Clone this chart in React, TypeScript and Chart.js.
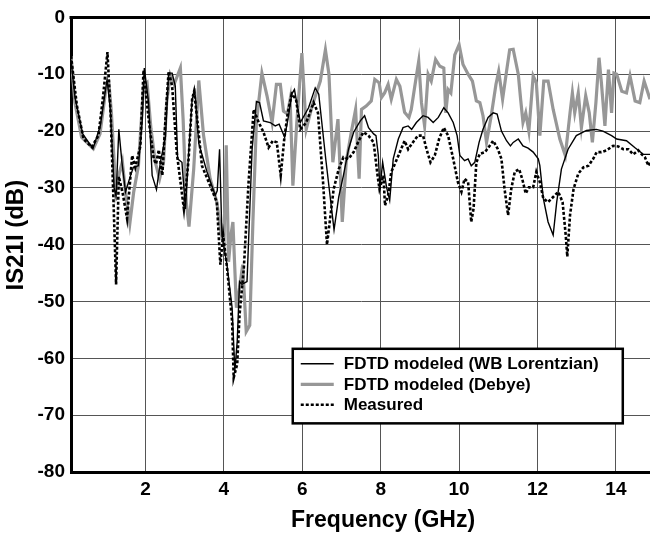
import React, { useEffect, useRef } from "react";
import { Chart, registerables } from "chart.js";

Chart.register(...registerables);

// ---------- data ----------
const seriesLabels = [
  "FDTD modeled (WB Lorentzian)",
  "FDTD modeled (Debye)",
  "Measured",
];

const lorentzFreq = [
  0.1, 0.2, 0.4, 0.66, 0.85, 1.02, 1.1, 1.2, 1.25, 1.32, 1.4, 1.49, 1.62, 1.69, 1.82, 1.92, 1.97,
  2.08, 2.17, 2.28, 2.38, 2.51, 2.59, 2.68, 2.76, 2.82, 2.93, 3.02, 3.1, 3.19, 3.26, 3.36, 3.57,
  3.78, 3.83, 3.89,
  3.95, 4.08, 4.21, 4.28, 4.34, 4.4, 4.46, 4.59, 4.72, 4.83, 4.91, 5.01, 5.18, 5.31, 5.41,
  5.55, 5.65, 5.73, 5.8, 5.95, 6.16, 6.33, 6.42, 6.6, 6.81, 6.93, 7.05, 7.18, 7.31, 7.48,
  7.59, 7.69, 7.82, 7.88, 7.94, 7.98, 8.05, 8.15, 8.23, 8.32, 8.45, 8.57, 8.7, 8.79, 8.91,
  9.08, 9.21, 9.34, 9.47, 9.61, 9.72, 9.85, 9.95, 10.02, 10.14, 10.23, 10.31, 10.4, 10.51,
  10.61, 10.74, 10.87, 10.97, 11.08, 11.21, 11.31, 11.38, 11.51, 11.63, 11.76, 11.89, 12.02,
  12.06, 12.15, 12.27, 12.4, 12.49, 12.61, 12.78, 12.99, 13.25, 13.5, 13.67, 13.89, 14.02,
  14.27, 14.48, 14.7, 14.87,
];
const lorentzDb = [
  -7.4, -14, -20.5, -23.1, -19, -10.9, -16, -30, -31.5, -19.7, -25.5, -30.7, -27.8, -26.4, -26.1, -17.9, -8.9,
  -15, -27.8, -30.3, -25.5, -21, -9.8, -9.8, -12.1, -24.9, -25.5, -33.7, -23.9, -14.4, -13, -22.2, -27.2,
  -31.3, -30.5, -23.2,
  -38.3, -43.6, -51.1, -62.2, -57, -46.5, -47, -46.5, -23.2, -14.8, -15, -18.2, -18.5, -19.1, -18.8,
  -21.1, -17.3, -13.5, -12.7, -18.5, -15.9, -12.4, -13.5, -25, -37.4, -31.6, -27.8, -23.2, -20.2, -18.2,
  -17.3, -19.4, -20.5, -20.8, -24.3, -30.2, -25.5, -29.9, -32.2, -24.9, -21.4, -19.4, -19.1, -19.7, -18.5,
  -17.3, -17.6, -18.5, -17.6, -15.9, -16.8, -18.5, -20.8, -24.3, -25.2, -24.9, -26.1, -25.5, -22,
  -19.7, -17.6, -16.8, -17, -20, -21.7, -22.6, -22, -21.4, -22.6, -23, -23.7, -24.9,
  -26.1, -31.9, -36, -38.3, -32.5, -26.7, -23.2, -20.8, -19.9, -19.7, -20, -20.8, -21.4,
  -21.7, -22.9, -24.1, -24.1,
];

const debyeFreq = [
  0.1, 0.2, 0.37, 0.67, 0.84, 0.99, 1.07, 1.13, 1.19, 1.24, 1.33, 1.41, 1.49, 1.6, 1.7, 1.82,
  1.95, 2.04, 2.14, 2.25, 2.36, 2.46, 2.54, 2.63, 2.73, 2.89, 2.96, 3.04, 3.11, 3.23, 3.36, 3.48,
  3.65, 3.82, 3.93, 4.0, 4.06, 4.12, 4.18, 4.23, 4.32, 4.4, 4.48, 4.57, 4.66, 4.74, 4.83, 4.97, 5.1,
  5.23, 5.34, 5.44, 5.52, 5.62, 5.69, 5.76, 5.86, 5.99, 6.1, 6.25, 6.46, 6.59, 6.68, 6.78, 6.91,
  7.02, 7.12, 7.25, 7.36, 7.45, 7.51, 7.63, 7.76, 7.85, 7.96, 8.02, 8.1, 8.19, 8.27, 8.4, 8.49,
  8.61, 8.72, 8.78, 8.87, 8.97, 9.04, 9.12, 9.21, 9.29, 9.4, 9.51, 9.61, 9.66, 9.72, 9.79, 9.89,
  10.0, 10.1, 10.23, 10.34, 10.44, 10.53, 10.61, 10.7, 10.82, 10.94, 11.01, 11.11, 11.21, 11.29,
  11.38, 11.51, 11.57, 11.63, 11.7, 11.78, 11.89, 11.97, 12.06, 12.16, 12.27, 12.4, 12.57, 12.71,
  12.83, 12.89, 12.95, 13.04, 13.12, 13.23, 13.32, 13.4, 13.49, 13.57, 13.63, 13.72, 13.81, 13.89,
  13.95, 14.02, 14.15, 14.27, 14.36, 14.49, 14.61, 14.72, 14.87,
];
const debyeDb = [
  -6.8, -15, -21.1, -23.1, -20.5, -12.6, -11.8, -16.7, -24, -30.7, -27.5, -25.4, -30.7, -36.3, -30.7, -26.1,
  -12.1, -11.5, -19.6, -25.5, -28.4, -25.5, -15, -10.1, -11.8, -8.9, -17.9, -32.5, -36.8, -26.7, -11.1, -20.7,
  -28.4, -32.5, -38, -40, -22.5, -43, -38.3, -36, -51.1, -47.6, -43.5, -55.3, -54.2, -36, -18.5, -9.8, -13.8,
  -18.5, -11.8, -11.8, -16.5, -17, -14.4, -29.6, -18.5, -6.3, -19.7, -15.6, -11.2, -5.7, -10, -25.5, -17.9,
  -36, -25.5, -20.2, -16.2, -28.4, -16.2, -15.6, -14.7, -10.9, -11.5, -14.1, -13.3, -11.8, -14.4, -10.9, -12.1,
  -16.7, -17.6, -16.2, -12.1, -7.7, -15, -19.1, -10, -11.2, -7.4, -8.6, -8.9, -16.8, -12.7, -13.3, -6.6,
  -4.8, -8.3, -10, -11.2, -14.7, -15, -17.3, -22, -17.3, -11.8, -9.5, -14.4, -9.5, -5.7,
  -5.6, -10, -14.4, -18.5, -16.8, -20, -10.3, -11.5, -20.8, -11.2, -11.2, -16.2, -21.4, -24.3,
  -16.8, -13.3, -16.8, -13.3, -19.4, -13.8, -16.8, -22, -15, -7.1, -11.5, -19.1, -9.2, -16.8,
  -9.8, -10, -13, -13.3, -10.3, -14.7, -15, -11.2, -14.4,
];

const measuredFreq = [
  0.1, 0.25, 0.42, 0.63, 0.8, 0.92, 1.03, 1.11, 1.19, 1.25, 1.32, 1.42, 1.53, 1.66, 1.74, 1.87,
  1.95, 2.08, 2.21, 2.27, 2.34, 2.43, 2.51, 2.59, 2.68, 2.8, 2.98, 3.1, 3.19, 3.24, 3.32, 3.44,
  3.65, 3.82, 3.91, 3.98, 4.08, 4.21, 4.25, 4.34, 4.4, 4.51, 4.63, 4.76, 4.89, 5.01, 5.14, 5.25, 5.35,
  5.45, 5.54, 5.63, 5.73, 5.84, 5.95, 6.1, 6.29, 6.4, 6.53, 6.63, 6.8, 6.93, 7.05, 7.18, 7.31,
  7.44, 7.56, 7.69, 7.82, 7.92, 7.97, 8.07, 8.11, 8.19, 8.27, 8.38, 8.52, 8.61, 8.7, 8.82, 8.95,
  9.08, 9.17, 9.27, 9.38, 9.49, 9.61, 9.72, 9.85, 9.97, 10.06, 10.14, 10.23, 10.31, 10.37, 10.44,
  10.53, 10.66, 10.78, 10.87, 10.99, 11.08, 11.16, 11.25, 11.33, 11.42, 11.53, 11.61, 11.7, 11.78,
  11.89, 11.97, 12.06, 12.15, 12.27, 12.4, 12.53, 12.64, 12.72, 12.76, 12.83, 12.92, 13.04, 13.17,
  13.3, 13.42, 13.51, 13.63, 13.76, 13.93, 14.06, 14.19, 14.32, 14.44, 14.57, 14.66, 14.74, 14.83,
  14.87,
];
const measuredDb = [
  -6.8, -15.5, -21.4, -22.8, -20.8, -13.8, -6.1, -16.9, -33.6, -47, -28, -31, -35.4, -24.3, -26.4, -22.6,
  -9.3, -17.9, -24.9, -25.8, -23.3, -27.8, -17.9, -9.5, -12.1, -23.9, -33.7, -24.9, -14.4, -13, -17.9, -26.1,
  -29.6, -32.5, -43.5, -38.3, -44, -53.5, -63.4, -61, -52.3, -44, -29, -16.2, -18.5, -20.2, -22.9, -21.7, -22,
  -27.8, -21.4, -16.8, -13.5, -14.4, -19.7, -18.5, -15, -16.8, -29, -40, -30.2, -26.7, -24.6, -24.9, -23.7,
  -21.7, -20.2, -20.8, -22, -27.8, -30.2, -27.8, -33.1, -31.3, -27.2, -25.5, -23.2, -21.7, -23.2, -22, -20.8,
  -20.8, -23.2, -25.5, -24.3, -21.4, -19.4, -20.8, -24.9, -29, -30.7, -28.4, -29, -36, -33.6, -25.5,
  -24, -23.7, -22.6, -21.7, -23.2, -24.9, -30.2, -34.8, -30.2, -27.2, -26.7, -28.4, -31, -29.9,
  -29.9, -27.2, -29, -31.9, -32.5, -31.6, -30.7, -32.5, -38.3, -42.1, -34.8, -30.2, -27.5, -26.4,
  -26.1, -24.9, -23.7, -23.7, -23.4, -22.6, -22.7, -23.2, -23.2, -24.1, -23.4, -24.1, -24.6, -26.1,
  -25.5,
];

const xTickValues = [2, 4, 6, 8, 10, 12, 14];
const yTickValues = [-80, -70, -60, -50, -40, -30, -20, -10, 0];
const xMin = 0.1;
const xMax = 14.87;
const yMin = -80;
const yMax = 0;
const xTitle = "Frequency (GHz)";
const yTitle = "IS21I (dB)";

// ---------- helpers ----------
const FONT = "'Liberation Sans', Arial, Helvetica, sans-serif";

const toPoints = (xs: number[], ys: number[]) => xs.map((x, i) => ({ x, y: ys[i] }));

const decorPlugin = {
  id: "decor",
  afterDraw(chart: any) {
    const { ctx, chartArea } = chart;
    const { left, right, top, bottom } = chartArea;
    const w = right - left;
    const h = bottom - top;
    ctx.save();

    // top frame line
    ctx.strokeStyle = "#000";
    ctx.lineWidth = 3;
    ctx.beginPath();
    ctx.moveTo(left - 1.5, top);
    ctx.lineTo(right, top);
    ctx.stroke();

    // legend box
    const bx = left + w * 0.383;
    const by = top + h * 0.729;
    const bw = w * 0.57;
    const bh = h * 0.164;
    ctx.fillStyle = "#fff";
    ctx.fillRect(bx, by, bw, bh);
    ctx.lineWidth = 2.5;
    ctx.strokeStyle = "#000";
    ctx.strokeRect(bx, by, bw, bh);

    ctx.font = `bold 17px ${FONT}`;
    ctx.textBaseline = "middle";
    ctx.textAlign = "left";
    chart.data.datasets.forEach((ds: any, i: number) => {
      const ry = by + 15 + i * 20.5;
      ctx.save();
      ctx.strokeStyle = ds.borderColor;
      ctx.lineWidth = ds.borderWidth;
      ctx.setLineDash(ds.borderDash || []);
      ctx.beginPath();
      ctx.moveTo(bx + 8, ry);
      ctx.lineTo(bx + 41, ry);
      ctx.stroke();
      ctx.restore();
      ctx.fillStyle = "#000";
      ctx.fillText(ds.label, bx + 51, ry + 1);
    });

    // axis titles
    ctx.fillStyle = "#000";
    ctx.font = `bold 23px ${FONT}`;
    ctx.textAlign = "center";
    ctx.textBaseline = "middle";
    ctx.fillText(xTitle, left + w * 0.539, bottom + 49);

    ctx.save();
    ctx.translate(16, top + h * 0.479);
    ctx.rotate(-Math.PI / 2);
    ctx.font = `bold 24px ${FONT}`;
    ctx.fillText(yTitle, 0, 0);
    ctx.restore();

    ctx.restore();
  },
};

export default function App() {
  const canvasRef = useRef<HTMLCanvasElement | null>(null);

  useEffect(() => {
    if (!canvasRef.current) return;
    const chart = new Chart(canvasRef.current, {
      type: "line",
      data: {
        datasets: [
          {
            label: seriesLabels[0],
            data: toPoints(lorentzFreq, lorentzDb),
            borderColor: "#000000",
            borderWidth: 1.4,
            pointRadius: 0,
            tension: 0,
            order: 1,
          },
          {
            label: seriesLabels[1],
            data: toPoints(debyeFreq, debyeDb),
            borderColor: "#979797",
            borderWidth: 3.2,
            pointRadius: 0,
            tension: 0,
            order: 2,
          },
          {
            label: seriesLabels[2],
            data: toPoints(measuredFreq, measuredDb),
            borderColor: "#000000",
            borderWidth: 2.6,
            borderDash: [3, 2],
            pointRadius: 0,
            tension: 0,
            order: 0,
          },
        ],
      },
      options: {
        animation: false,
        responsive: false,
        maintainAspectRatio: false,
        layout: { padding: { left: 0, right: 0, top: 14, bottom: 0 } },
        plugins: {
          legend: { display: false },
          tooltip: { enabled: false },
        },
        scales: {
          x: {
            type: "linear",
            min: xMin,
            max: xMax,
            afterBuildTicks: (s: any) => {
              s.ticks = xTickValues.map((v) => ({ value: v }));
            },
            afterFit: (s: any) => {
              s.height = 66;
            },
            ticks: {
              color: "#000",
              padding: 6,
              maxRotation: 0,
              font: { family: FONT, size: 19, weight: "bold" },
            },
            grid: { color: "#555", lineWidth: 1, drawTicks: false },
            border: { display: true, color: "#000", width: 3 },
          },
          y: {
            type: "linear",
            min: yMin,
            max: yMax,
            afterBuildTicks: (s: any) => {
              s.ticks = yTickValues.map((v) => ({ value: v }));
            },
            afterFit: (s: any) => {
              s.width = 71;
            },
            ticks: {
              color: "#000",
              padding: 6,
              font: { family: FONT, size: 19, weight: "bold" },
            },
            grid: { color: "#555", lineWidth: 1, drawTicks: false },
            border: { display: true, color: "#000", width: 3 },
          },
        },
      },
      plugins: [decorPlugin],
    });
    return () => chart.destroy();
  }, []);

  return (
    <div style={{ position: "absolute", left: 0, top: 0, width: 650, height: 538, background: "#fff" }}>
      <canvas ref={canvasRef} width={650} height={538} style={{ display: "block" }} />
    </div>
  );
}
